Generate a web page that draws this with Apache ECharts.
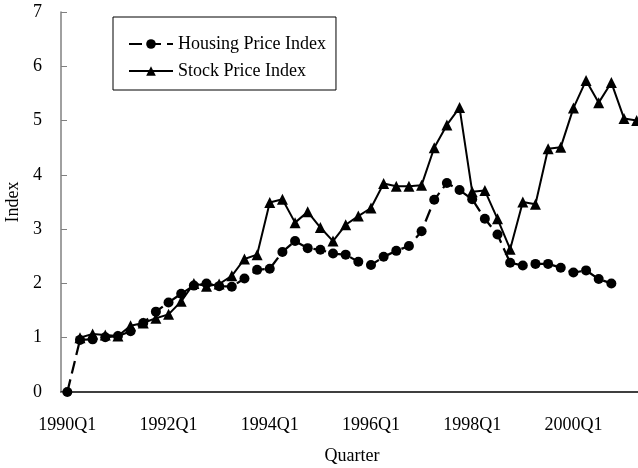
<!DOCTYPE html>
<html>
<head>
<meta charset="utf-8">
<script src="https://cdn.jsdelivr.net/npm/echarts@6/dist/echarts.min.js"></script>
<style>
  html, body { margin: 0; padding: 0; background: #fff; }
  #chart { width: 638px; height: 468px; }
</style>
</head>
<body>
<div id="chart"></div>
<script>
const quarters = [
  '1990Q1', '1990Q2', '1990Q3', '1990Q4', '1991Q1', '1991Q2', '1991Q3', '1991Q4',
  '1992Q1', '1992Q2', '1992Q3', '1992Q4', '1993Q1', '1993Q2', '1993Q3', '1993Q4',
  '1994Q1', '1994Q2', '1994Q3', '1994Q4', '1995Q1', '1995Q2', '1995Q3', '1995Q4',
  '1996Q1', '1996Q2', '1996Q3', '1996Q4', '1997Q1', '1997Q2', '1997Q3', '1997Q4',
  '1998Q1', '1998Q2', '1998Q3', '1998Q4', '1999Q1', '1999Q2', '1999Q3', '1999Q4',
  '2000Q1', '2000Q2', '2000Q3', '2000Q4', '2001Q1', '2001Q2'
];

const housingIndex = [
  0, 0.96, 0.97, 1.01, 1.03, 1.12, 1.27, 1.48,
  1.65, 1.81, 1.96, 2.0, 1.95, 1.94, 2.09, 2.25,
  2.27, 2.58, 2.78, 2.65, 2.62, 2.55, 2.53, 2.4,
  2.34, 2.49, 2.6, 2.69, 2.96, 3.54, 3.85, 3.72,
  3.55, 3.19, 2.9, 2.38, 2.33, 2.36, 2.36, 2.29,
  2.2, 2.24, 2.08, 2.0, null, null
];

const stockIndex = [
  null, 1.0, 1.07, 1.05, 1.03, 1.22, 1.27, 1.36,
  1.43, 1.67, 2.0, 1.95, 1.99, 2.14, 2.45, 2.53,
  3.49, 3.55, 3.12, 3.32, 3.03, 2.78, 3.08, 3.24,
  3.39, 3.84, 3.79, 3.79, 3.81, 4.5, 4.92, 5.24,
  3.69, 3.71, 3.19, 2.63, 3.5, 3.46, 4.48, 4.51,
  5.23, 5.74, 5.33, 5.7, 5.04, 5.0
];

const yTicks = [0, 1, 2, 3, 4, 5, 6, 7];

const serif = 'Liberation Serif';

const chart = echarts.init(document.getElementById('chart'));

const option = {
  animation: false,
  backgroundColor: '#fff',
  grid: {
    left: 61,
    right: -5,
    top: 12,
    bottom: 76,
    containLabel: false,
    outerBoundsMode: 'none'
  },
  legend: {
    orient: 'vertical',
    left: 113,
    top: 17,
    padding: [18, 10, 10, 15],
    itemGap: 9,
    itemWidth: 44,
    itemHeight: 12,
    borderColor: '#000',
    borderWidth: 1,
    borderRadius: 0,
    backgroundColor: '#fff',
    textStyle: { fontFamily: serif, fontSize: 18, color: '#000' },
    data: ['Housing Price Index', 'Stock Price Index']
  },
  xAxis: {
    type: 'category',
    data: quarters,
    boundaryGap: true,
    name: 'Quarter',
    nameLocation: 'middle',
    nameGap: 55,
    nameTextStyle: { fontFamily: serif, fontSize: 18, color: '#000' },
    axisLine: { lineStyle: { color: '#000', width: 1.5 } },
    axisTick: { inside: true, length: 6, interval: 0, lineStyle: { color: '#000', width: 1 } },
    axisLabel: {
      interval: 7,
      margin: 24,
      fontFamily: serif,
      fontSize: 18,
      color: '#000'
    },
    splitLine: { show: false }
  },
  yAxis: {
    type: 'value',
    min: yTicks[0],
    max: yTicks[yTicks.length - 1],
    interval: 1,
    name: 'Index',
    nameLocation: 'middle',
    nameGap: 36,
    nameTextStyle: { fontFamily: serif, fontSize: 18, color: '#000' },
    axisLine: { show: true, lineStyle: { color: '#808080', width: 1.5 } },
    axisTick: { show: true, inside: true, length: 6, lineStyle: { color: '#808080', width: 1 } },
    axisLabel: {
      margin: 19,
      fontFamily: serif,
      fontSize: 18,
      color: '#000'
    },
    splitLine: { show: false }
  },
  series: [
    {
      name: 'Housing Price Index',
      type: 'line',
      data: housingIndex,
      symbol: 'circle',
      symbolSize: 10,
      showAllSymbol: true,
      itemStyle: { color: '#000' },
      lineStyle: { color: '#000', width: 2.25, type: [13, 6] },
      connectNulls: false,
      z: 2
    },
    {
      name: 'Stock Price Index',
      type: 'line',
      data: stockIndex,
      symbol: 'triangle',
      symbolSize: 11,
      showAllSymbol: true,
      itemStyle: { color: '#000' },
      lineStyle: { color: '#000', width: 2, type: 'solid' },
      connectNulls: false,
      z: 3
    }
  ]
};

chart.setOption(option);
</script>
</body>
</html>
